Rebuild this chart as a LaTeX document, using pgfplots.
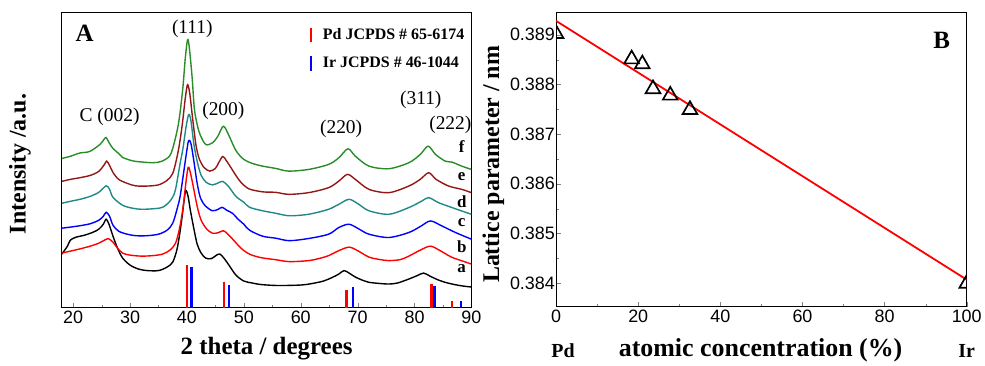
\documentclass[border=0pt]{standalone}
\usepackage{fontspec}
\setmainfont{Liberation Serif}
\newfontfamily\tickfont{Liberation Sans}
\usepackage{pgfplots}
\pgfplotsset{compat=1.18}
\definecolor{cgreen}{rgb}{0.16,0.55,0.16}
\definecolor{cdred}{rgb}{0.58,0.09,0.09}
\definecolor{cteal}{rgb}{0.12,0.54,0.52}
\newcommand{\fs}[1]{\fontsize{#1}{#1}\selectfont}
\begin{document}
\begin{tikzpicture}
\path (0pt,0pt) rectangle (985pt,366pt);
\begin{axis}[at={(62pt,57pt)}, anchor=south west, scale only axis,
  width=411pt, height=296pt, xmin=18, xmax=90, ymin=0, ymax=296,
  xtick={20,30,...,90}, minor x tick num=1, ytick=\empty,
  xtick pos=bottom, tick align=inside, major tick length=5pt, minor tick length=3pt,
  ticklabel style={font=\tickfont\fs{18}}, /pgf/number format/assume math mode=true,
  axis line style={line width=1pt}, clip mode=individual,
  xlabel={\bfseries 2 theta / degrees},
  xlabel style={font=\fs{25}, at={(axis description cs:0.5,-0.139)}, anchor=center},
  ylabel={\bfseries Intensity /a.u.},
  ylabel style={font=\fs{24}, at={(axis description cs:-0.102,0.488)}, anchor=center},
  legend style={at={(axis description cs:0.605,0.955)}, anchor=north west, draw=none, fill=none,
    font=\bfseries\fs{16}, row sep=11pt, inner sep=0pt,
    /tikz/every odd column/.append style={column sep=9pt}},
  legend cell align=left,
  legend image code/.code={\draw[#1, line width=2.2pt] (0pt,-7.5pt) -- (0pt,7.5pt);},
]
% a
\addplot[black, line width=1.4pt, smooth, forget plot] coordinates {
(18,54) (19,62) (19.5,68) (20.5,71) (22,73) (23.5,76) (24.5,79) (25.3,84) (25.8,89) (26.3,84) (27,72) (27.8,60) (28.7,50) (30,43) (31.5,39) (33,37.5) (35,37.5) (36.5,41) (37.5,46) (38.3,60) (39,85) (39.5,108) (39.8,118) (40.2,112) (40.6,98) (41.2,80) (41.8,64) (42.5,55) (43.3,50) (44.3,49.5) (45.2,53) (45.8,54) (46.5,50) (47.5,42) (48.6,33) (50,27) (51.5,25) (53,23.5) (56,22.5) (60,23) (62,24.5) (64,27) (65.5,30.5) (66.7,34) (67.6,37.5) (68.5,35) (69.6,31) (71,27.5) (72,25.7) (74,24.5) (75.5,24) (77,25) (79,29) (80.5,32.5) (81.6,35) (82.7,32) (84,28.5) (85.5,25.5) (87,23.5) (88.5,22) (90,21)};
% b
\addplot[red, line width=1.4pt, smooth, forget plot] coordinates {
(18,55) (19.5,57) (21,59) (23,62) (24.5,65) (25.5,68) (26.2,69.5) (27,66) (27.8,60) (28.7,55) (30,53) (32,52) (34,52.5) (35.7,54) (37,58) (38,65) (38.7,80) (39.3,100) (39.8,125) (40.2,141) (40.5,138) (41,125) (41.8,102) (42.5,88) (43.5,79) (44.5,75) (45.5,75.5) (46.4,77.5) (47.2,74) (48.2,68) (49.5,60) (51,54) (53,50.5) (55.5,48.5) (58,46.5) (61.4,47.5) (63.5,50) (64.9,52.5) (66.7,57.5) (68.5,61) (70,57.5) (72,51) (74,48.5) (75.5,47.5) (77.5,48.5) (79,52) (81,58) (82.8,62) (84.5,57.5) (86.5,51) (88.5,47) (90,44)};
% c
\addplot[blue, line width=1.4pt, smooth, forget plot] coordinates {
(18,80) (20,81.5) (21.2,82.5) (23,84.5) (24.5,88) (25.3,92) (25.8,96) (26.4,92) (27,83) (28,77) (29.5,74) (31,72.5) (33,72.5) (35,74) (36.5,78) (37.5,85) (38.3,100) (38.8,112) (39.4,135) (39.9,155) (40.3,168) (40.7,165) (41.2,148) (41.8,125) (42.4,110) (43.3,102) (44.5,97.5) (45.5,99) (46.2,101) (47,98) (48,95) (49,89) (50,84) (51,78) (53.3,72) (55.6,70) (58,67.5) (61.4,69.7) (64.9,74) (66.7,80.7) (68.5,84) (70.3,79) (72,74) (75.5,70.7) (79,75.7) (81.1,82) (82.8,87.3) (84.8,82.3) (87.2,75.7) (90,69)};
% d
\addplot[cteal, line width=1.4pt, smooth, forget plot] coordinates {
(18,105) (19.5,107) (21.2,109) (23,112) (24.5,116) (25.8,122.5) (26.4,119) (27,111) (28.7,103) (30.5,100) (32,99) (34,99.5) (35.7,101) (37,107) (37.8,115) (38.2,125) (38.8,145) (39.3,160) (39.8,180) (40.3,194) (40.7,188) (41.2,165) (41.8,147) (42.5,133) (43.4,126) (44.5,123.5) (45.5,125.5) (46.3,127) (47.3,122) (48.6,112) (50,106) (51,101) (53.3,97.5) (55.6,95) (58,92.5) (61.4,94) (64.9,99) (66.7,104) (68.5,109) (70.2,104) (72,97.5) (75.5,94) (79,100.7) (81.3,107.3) (82.5,110.7) (84.2,105.7) (86.6,100.7) (88.3,97.3) (90,94)};
% e
\addplot[cdred, line width=1.4pt, smooth, forget plot] coordinates {
(18,127) (19.5,129) (21.2,130.7) (23,133) (24.5,137) (25.5,144) (25.9,147.3) (26.4,143) (27,136) (28,129) (29.5,125) (31,122.5) (33,122.3) (35,123.5) (36.5,128) (37.5,135) (38.2,150) (38.7,165) (39.2,185) (39.7,210) (40.1,224) (40.5,215) (41,190) (41.6,163) (42.2,149) (43,141) (44,137.3) (45,140) (45.6,146) (46.3,152) (46.9,148) (47.6,142) (48.6,133) (49.5,126) (50.9,119.5) (53.3,116.5) (55.6,116) (57.9,114) (61.4,115.7) (64.9,120.7) (66.7,127.3) (68.2,134) (69.6,129) (72,119) (75.5,115.7) (79,122.3) (81,129) (82.5,135.7) (83.8,129) (86,122.3) (88.3,119) (90,115.7)};
% f
\addplot[cgreen, line width=1.4pt, smooth, forget plot] coordinates {
(18,150) (19.4,152) (21.2,155.5) (22.9,157) (24.7,164) (25.4,169) (25.8,171) (26.3,166) (27,160) (28,155) (28.7,151) (30.5,147.5) (32,146.5) (34,145.7) (35.5,147) (36.9,152) (37.5,160) (38.2,176) (38.7,192) (39.3,222) (39.7,250) (40.1,269) (40.4,262) (40.9,232) (41.3,200) (41.8,184) (42.3,174) (43.3,164) (44.5,165.7) (45.4,172) (46.4,182.3) (47.3,174) (48.6,158) (50,149) (51.5,145) (53.3,142.3) (55.6,140) (57.9,137.3) (61.4,139) (64.9,144) (66.7,150.7) (68.3,159.7) (69.6,152.3) (72,142.3) (75.5,139.7) (79,145.7) (81,154) (82.4,162.3) (83.7,154) (85.4,147.3) (86.6,146.3) (88.3,142.3) (90,139)};
% reference sticks
\addplot[ycomb, color=red, line width=2.2pt, mark=none] coordinates {(40.0,43.3) (46.55,26.3) (68.05,18) (83.0,24) (86.6,7)};
\addlegendentry{Pd JCPDS \# 65-6174}
\addplot[ycomb, color=blue, line width=2.2pt, mark=none] coordinates {(40.8,41.3) (47.35,22.7) (69.25,21) (83.5,22) (88.15,7)};
\addlegendentry{Ir JCPDS \# 46-1044}
% labels
\node[font=\bfseries\fs{25}] at (axis description cs:0.056,0.932) {A};
\node[font=\fs{19.5}] at (axis cs:26.4,192) {C (002)};
\node[font=\fs{19.5}] at (axis cs:40.95,280) {(111)};
\node[font=\fs{19.5}] at (axis cs:46.4,198) {(200)};
\node[font=\fs{19.5}] at (axis cs:67.1,180) {(220)};
\node[font=\fs{19.5}] at (axis cs:81.1,209) {(311)};
\node[font=\fs{19.5}] at (axis cs:86.3,184) {(222)};
\node[font=\bfseries\fs{17}] at (axis cs:88.3,162) {f};
\node[font=\bfseries\fs{17}] at (axis cs:88.3,132) {e};
\node[font=\bfseries\fs{17}] at (axis cs:88.3,107) {d};
\node[font=\bfseries\fs{17}] at (axis cs:88.3,86) {c};
\node[font=\bfseries\fs{17}] at (axis cs:88.3,61) {b};
\node[font=\bfseries\fs{17}] at (axis cs:88.3,39) {a};
\end{axis}

\begin{axis}[at={(558pt,58pt)}, anchor=south west, scale only axis,
  width=412pt, height=295pt, xmin=0, xmax=100, ymin=0.38352, ymax=0.38944,
  xtick={0,20,...,100}, minor x tick num=1,
  ytick={0.384,0.385,0.386,0.387,0.388,0.389}, minor y tick num=1,
  xtick pos=bottom, ytick pos=left, tick align=inside,
  major tick length=5pt, minor tick length=3pt,
  scaled y ticks=false,
  yticklabel style={/pgf/number format/fixed, /pgf/number format/fixed zerofill, /pgf/number format/precision=3, /tikz/inner sep=1pt},
  ticklabel style={font=\tickfont\fs{18}}, /pgf/number format/assume math mode=true,
  axis line style={line width=1pt}, clip mode=individual, clip marker paths=true,
  xlabel={\bfseries atomic concentration (\%)},
  xlabel style={font=\fs{26}, at={(axis description cs:0.498,-0.149)}, anchor=center},
  ylabel={\bfseries Lattice parameter / nm},
  ylabel style={font=\fs{24}, at={(axis description cs:-0.153,0.485)}, anchor=center},
]
\addplot[red, line width=1.8pt] coordinates {(0,0.38928) (100,0.38407)};
\addplot[only marks, mark=triangle, mark size=8.5pt, mark options={line width=1.7pt, draw=black, fill=none}] coordinates {
(0,0.38902) (18.4,0.38851) (21.0,0.38841) (23.6,0.38791) (27.8,0.38778) (32.6,0.38749) (100,0.38399)};
\node[font=\bfseries\fs{25}] at (axis description cs:0.939,0.908) {B};
\node[font=\bfseries\fs{20}] at (axis description cs:0.017,-0.149) {Pd};
\node[font=\bfseries\fs{20}] at (axis description cs:1.0,-0.149) {Ir};
\end{axis}
\end{tikzpicture}
\end{document}
